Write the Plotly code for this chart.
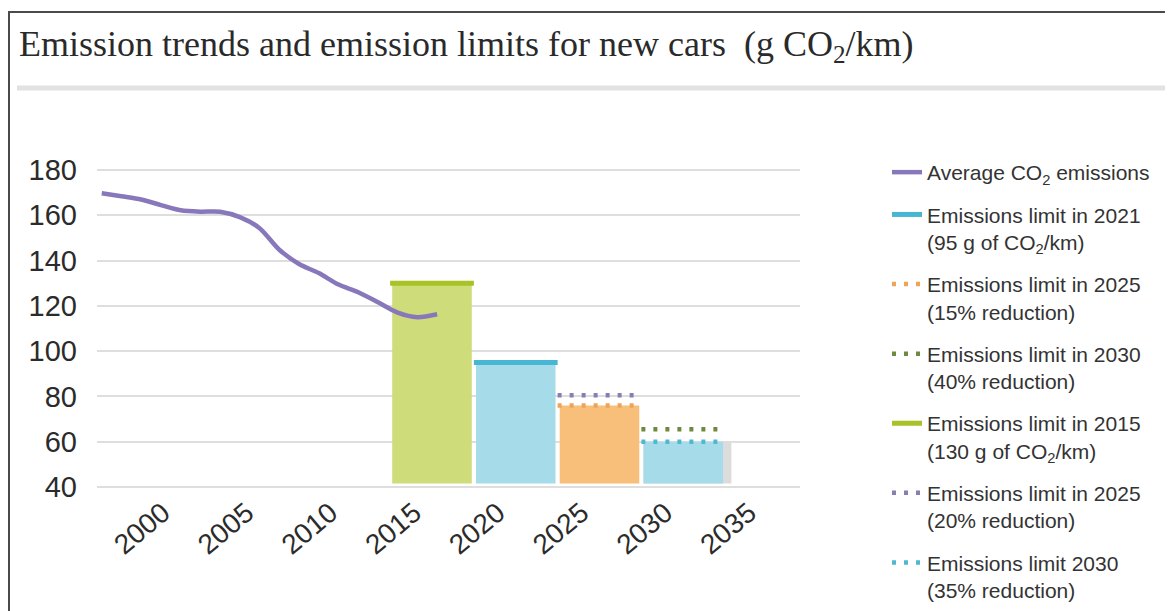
import plotly.graph_objects as go

# ---- data ----
years = list(range(2000, 2018))
avg_co2 = [169.7, 168.4, 167.0, 164.5, 162.2, 161.6, 161.6, 159.2, 154.3, 144.8,
           138.5, 134.5, 129.4, 126.0, 121.6, 117.0, 115.0, 116.3]

period_start = [2015, 2020, 2025, 2030]
period_len = 5
bar_values = [130, 95, 76, 60]
bar_colors = ["#cfdc7a", "#a6dbe9", "#f8bf7a", "#a6dbe9"]
bar_base = 41.5

limit_names = [
    "Emissions limit in 2021<br>(95 g of CO<sub>2</sub>/km)",
    "Emissions limit in 2025<br>(15% reduction)",
    "Emissions limit in 2030<br>(40% reduction)",
    "Emissions limit in 2015<br>(130 g of CO<sub>2</sub>/km)",
    "Emissions limit in 2025<br>(20% reduction)",
    "Emissions limit 2030<br>(35% reduction)",
]
limit_period = [1, 2, 3, 0, 2, 3]
limit_values = [95, 76, 65.5, 130, 80.5, 60]
limit_colors = ["#47b6d2", "#eda45a", "#6e8a3c", "#a9c226", "#8a7db4", "#4fb9d3"]
limit_dash = ["solid", "4px,8px", "4px,8px", "solid", "4px,8px", "4px,8px"]

xtick_vals = [2000, 2005, 2010, 2015, 2020, 2025, 2030, 2035]
ytick_vals = [40, 60, 80, 100, 120, 140, 160, 180]

fig = go.Figure()

fig.add_trace(go.Bar(
    x=[period_start[3] + period_len / 2], y=[bar_values[3] - bar_base], base=bar_base,
    width=[period_len * 1.05], offset=[-period_len * 0.475],
    marker=dict(color="#dcdcdc", line=dict(width=0)), showlegend=False, hoverinfo="skip"))

fig.add_trace(go.Bar(
    x=[s + period_len / 2 for s in period_start],
    y=[v - bar_base for v in bar_values], base=bar_base,
    width=period_len * 0.95,
    marker=dict(color=bar_colors, line=dict(width=0)),
    showlegend=False, hoverinfo="skip"))

for i, (nm, p, v, c, d) in enumerate(zip(limit_names, limit_period, limit_values, limit_colors, limit_dash)):
    s = period_start[p]
    fig.add_trace(go.Scatter(
        x=[s, s + period_len], y=[v, v], mode="lines", name=nm,
        line=dict(color=c, width=5 if d == "solid" else 4.5, dash=d),
        legendgroup="g%d" % i, legendrank=i + 2, hoverinfo="skip"))

fig.add_trace(go.Scatter(
    x=years, y=avg_co2, mode="lines", name="Average CO<sub>2</sub> emissions",
    line=dict(color="#8878bb", width=4.5, shape="spline", smoothing=0.8),
    xaxis="x2", legendgroup="avg", legendrank=1, hoverinfo="skip"))

# layout geometry (page has an 8px body margin)
OFF = 8
W, H = 1173, 611
L, T = 97 - OFF, 150 - OFF
pw, ph = 703, 347
R = W - L - pw
B = H - T - ph


def lx(ref_px):
    return (ref_px - OFF - L) / pw


def ly(ref_py):
    return (T + ph - (ref_py - OFF)) / ph


fig.update_layout(
    width=W, height=H,
    margin=dict(l=L, r=R, t=T, b=B, autoexpand=False),
    paper_bgcolor="white", plot_bgcolor="white",
    barmode="overlay",
    font=dict(family="Liberation Sans, Arial, sans-serif", color="#2b2b2b"),
    title=dict(
        text="Emission trends and emission limits for new cars  (g CO<sub>2</sub>/km)",
        font=dict(family="Liberation Serif, serif", size=36, color="#2a2a2a"),
        xref="container", x=(19 - OFF) / W, xanchor="left",
        yref="container", y=1 - (43 - OFF) / H, yanchor="middle"),
    xaxis=dict(
        range=[1997.5, 1997.5 + pw / 16.75],
        tickvals=xtick_vals, ticktext=[str(v) for v in xtick_vals],
        tickangle=-40, tickfont=dict(size=28, color="#2b2b2b"),
        ticklabelshift=24, ticklabelstandoff=-7, automargin=False,
        showgrid=False, zeroline=False, showline=False, ticks=""),
    xaxis2=dict(
        range=[1999.76, 1999.76 + pw / 19.73],
        overlaying="x", visible=False),
    yaxis=dict(
        range=[40 - (497 - 487) / 2.264, 180 + (170 - 150) / 2.264],
        tickvals=ytick_vals, automargin=False,
        tickfont=dict(size=29, color="#2b2b2b"),
        showgrid=True, gridcolor="#dedede", gridwidth=2,
        zeroline=False, showline=False, ticks="", ticklabelstandoff=19),
    legend=dict(
        x=lx(879 + OFF), xanchor="left", y=ly(152), yanchor="top",
        font=dict(size=21, color="#333333"),
        valign="top", tracegroupgap=12, bgcolor="rgba(0,0,0,0)",
        traceorder="grouped", maxheight=600),
    shapes=[
        dict(type="rect", xref="paper", yref="paper",
             x0=lx(OFF + 1), x1=lx(1200), y0=ly(640), y1=ly(12),
             line=dict(color="#4a4a4a", width=2), fillcolor="rgba(0,0,0,0)", layer="below"),
        dict(type="line", xref="paper", yref="paper",
             x0=lx(17), x1=lx(1165), y0=ly(88), y1=ly(88),
             line=dict(color="#e2e2e2", width=5)),
    ],
)

fig.write_html("out.html")
